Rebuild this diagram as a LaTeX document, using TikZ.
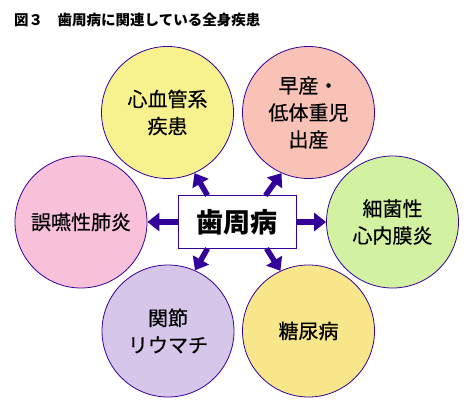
\documentclass[tikz,border=0pt]{standalone}
\usepackage{fontspec}
\setmainfont{Noto Sans CJK JP}
\newfontfamily\medfont[FakeBold=0.5]{Noto Sans CJK JP}
\usetikzlibrary{arrows.meta}
\definecolor{arr}{HTML}{330099}
\definecolor{cyel}{HTML}{F8F28E}
\definecolor{csal}{HTML}{F8C2B6}
\definecolor{cgrn}{HTML}{D2F2A2}
\definecolor{cpnk}{HTML}{F9C0DA}
\definecolor{clav}{HTML}{D5C6EA}
\definecolor{cgold}{HTML}{F7E78A}
\begin{document}
\begin{tikzpicture}[x=1pt,y=-1pt,
  dz/.style={circle, draw=arr, line width=0.8pt, minimum size=132pt, inner sep=0pt,
    align=center, font=\medfont\fontsize{20}{27}\selectfont},
  arrw/.style={draw=arr, line width=5.5pt, -{Triangle[width=18pt,length=12pt]}}]
\useasboundingbox (0,0) rectangle (471,414);
\node[anchor=west, inner sep=0pt, font=\bfseries\fontsize{14.5}{16}\selectfont] (title) at (14,20) {図３　歯周病に関連している全身疾患};
\node[dz, fill=cyel] (cv) at (167.5,112.5) {心血管系\\疾患};
\node[dz, fill=csal] (pb) at (308.5,112.5) {早産・\\低体重児\\出産};
\node[dz, fill=cpnk] (pn) at (81,222) {誤嚥性肺炎};
\node[dz, fill=cgrn] (en) at (392.5,222) {細菌性\\心内膜炎};
\node[dz, fill=clav] (ra) at (168,331) {関節\\リウマチ};
\node[dz, fill=cgold] (dm) at (308.5,331) {糖尿病};
\node[draw=arr, line width=1pt, fill=white, minimum width=118pt, minimum height=52pt,
  inner sep=0pt, font=\bfseries\fontsize{27}{30}\selectfont] (pd) at (237,222) {歯周病};
\draw[arrw] ([xshift=30pt]pd.north west) -- (cv.-66);
\draw[arrw] ([xshift=-31pt]pd.north east) -- (pb.-114);
\draw[arrw] ([xshift=30pt]pd.south west) -- (ra.66);
\draw[arrw] ([xshift=-30pt]pd.south east) -- (dm.115);
\draw[arrw] (pd.west) -- (pn.east);
\draw[arrw] (pd.east) -- (en.west);
\end{tikzpicture}
\end{document}
